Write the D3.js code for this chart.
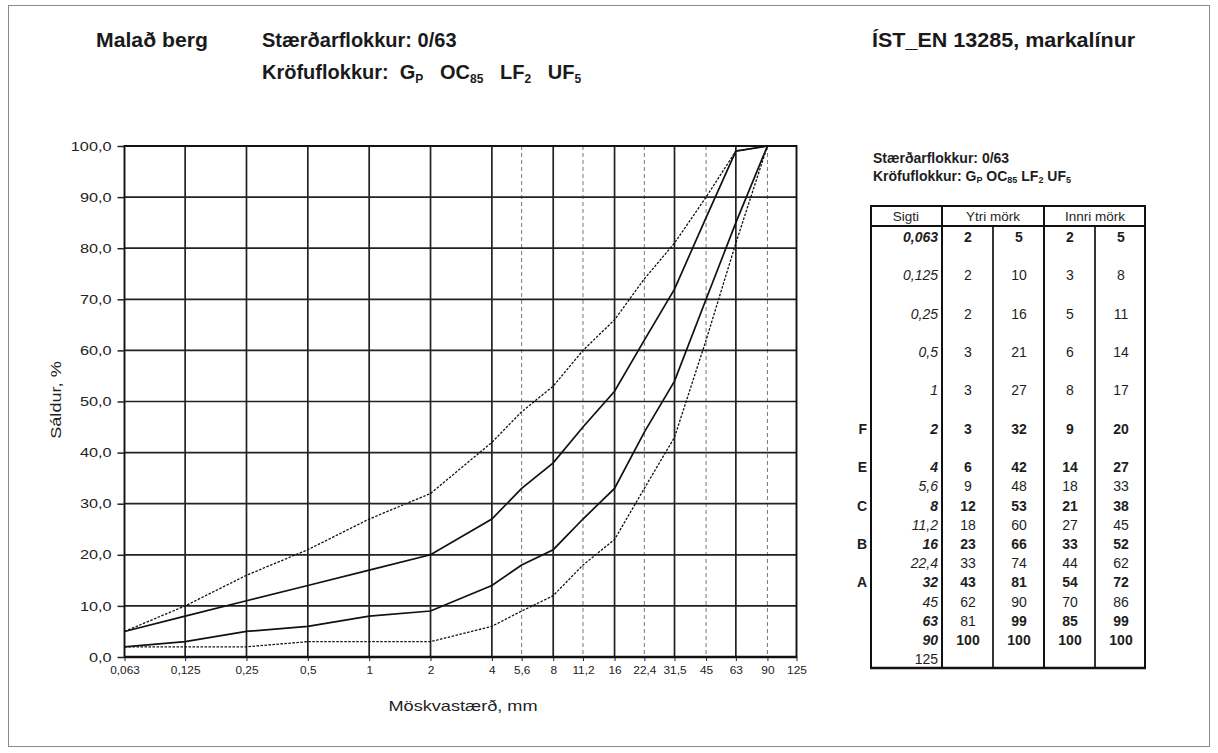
<!DOCTYPE html>
<html><head><meta charset="utf-8">
<script src="https://cdn.jsdelivr.net/npm/d3@7"></script>
<style>
body{margin:0;background:#fff;}
svg{display:block;font-family:"Liberation Sans",Arial,sans-serif;}
text{white-space:pre;}
</style></head>
<body>
<svg id="c" width="1218" height="753"></svg>
<script>
// ---- data ----
const sieves = [0.063,0.125,0.25,0.5,1,2,4,5.6,8,11.2,16,22.4,31.5,45,63,90];
const outerLower = [2,2,2,3,3,3,6,9,12,18,23,33,43,62,81,100];
const outerUpper = [5,10,16,21,27,32,42,48,53,60,66,74,81,90,99,100];
const innerLower = [2,3,5,6,8,9,14,18,21,27,33,44,54,70,85,100];
const innerUpper = [5,8,11,14,17,20,27,33,38,45,52,62,72,86,99,100];
const xTickValues = [0.063,0.125,0.25,0.5,1,2,4,5.6,8,11.2,16,22.4,31.5,45,63,90,125];
const xTickLabels = ["0,063","0,125","0,25","0,5","1","2","4","5,6","8","11,2","16","22,4","31,5","45","63","90","125"];
const xSolidGrid = [0.125,0.25,0.5,1,2,4,8,16,31.5,63];
const xDashedGrid = [5.6,11.2,22.4,45,90];
const yTicks = [0,10,20,30,40,50,60,70,80,90,100];
const yTickLabels = ["0,0","10,0","20,0","30,0","40,0","50,0","60,0","70,0","80,0","90,0","100,0"];
// table
const tableSieve = ["0,063","0,125","0,25","0,5","1","2","4","5,6","8","11,2","16","22,4","32","45","63","90","125"];
const tableRowIndex = [0,2,4,6,8,10,12,13,14,15,16,17,18,19,20,21,22];
const tableClass = ["","","","","","F","E","","C","","B","","A","","","",""];
const tYtriLow = ["2","2","2","3","3","3","6","9","12","18","23","33","43","62","81","100",""];
const tYtriHigh = ["5","10","16","21","27","32","42","48","53","60","66","74","81","90","99","100",""];
const tInnriLow = ["2","3","5","6","8","9","14","18","21","27","33","44","54","70","85","100",""];
const tInnriHigh = ["5","8","11","14","17","20","27","33","38","45","52","62","72","86","99","100",""];
// bold flags per row: [sieve, yl, yh, il, ih]
const tableBold = [
 [1,1,1,1,1],[0,0,0,0,0],[0,0,0,0,0],[0,0,0,0,0],[0,0,0,0,0],
 [1,1,1,1,1],[1,1,1,1,1],[0,0,0,0,0],[1,1,1,1,1],[0,0,0,0,0],
 [1,1,1,1,1],[0,0,0,0,0],[1,1,1,1,1],[0,0,0,0,0],[1,0,1,1,1],
 [1,1,1,1,1],[0,0,0,0,0]];

const svg = d3.select("#c");
function stretch(sel,k){
  sel.each(function(){
    const w=this.getComputedTextLength();
    this.setAttribute("textLength",(w*k).toFixed(2));
    this.setAttribute("lengthAdjust","spacingAndGlyphs");
  });
  return sel;
}
// page frame
svg.append("rect").attr("x",8.5).attr("y",5.5).attr("width",1201).attr("height",741)
  .attr("fill","none").attr("stroke","#8a8a8a").attr("stroke-width",1);

// ---- titles ----
const T = svg.append("g").attr("font-weight","bold").attr("fill","#1a1a1a");
stretch(T.append("text").attr("x",96).attr("y",47).attr("font-size",20).text("Malað berg"),1.06);
T.append("text").attr("x",262).attr("y",47).attr("font-size",20).text("Stærðarflokkur: 0/63");
stretch(T.append("text").attr("x",872).attr("y",47).attr("font-size",20.5).text("ÍST_EN 13285, markalínur"),1.05);
const k = T.append("text").attr("x",262).attr("y",79).attr("font-size",20);
k.append("tspan").text("Kröfuflokkur:  G");
k.append("tspan").attr("font-size",12).attr("dy",4).text("P");
k.append("tspan").attr("dy",-4).text("   OC");
k.append("tspan").attr("font-size",12).attr("dy",4).text("85");
k.append("tspan").attr("dy",-4).text("   LF");
k.append("tspan").attr("font-size",12).attr("dy",4).text("2");
k.append("tspan").attr("dy",-4).text("   UF");
k.append("tspan").attr("font-size",12).attr("dy",4).text("5");

// ---- chart ----
const L=124.5, R=796.5, TOP=146, BOT=657;
const x = d3.scaleLog().domain([0.063,125]).range([L,R]);
const y = d3.scaleLinear().domain([0,100]).range([BOT,TOP]);
const g = svg.append("g");
g.selectAll(".vd").data(xDashedGrid).enter().append("line")
  .attr("x1",d=>x(d)).attr("x2",d=>x(d)).attr("y1",TOP).attr("y2",BOT)
  .attr("stroke","#777").attr("stroke-width",1).attr("stroke-dasharray","4,3");
g.selectAll(".vs").data(xSolidGrid).enter().append("line")
  .attr("x1",d=>x(d)).attr("x2",d=>x(d)).attr("y1",TOP).attr("y2",BOT)
  .attr("stroke","#222").attr("stroke-width",1.7);
g.selectAll(".h").data(yTicks).enter().append("line")
  .attr("x1",L).attr("x2",R).attr("y1",d=>y(d)).attr("y2",d=>y(d))
  .attr("stroke","#222").attr("stroke-width",1.7);
g.append("rect").attr("x",L).attr("y",TOP).attr("width",R-L).attr("height",BOT-TOP)
  .attr("fill","none").attr("stroke","#111").attr("stroke-width",1.9);
g.append("line").attr("x1",L).attr("x2",R).attr("y1",BOT).attr("y2",BOT).attr("stroke","#111").attr("stroke-width",2.6);

// axes
const yAxis = d3.axisLeft(y).tickValues(yTicks).tickFormat((d,i)=>yTickLabels[i]).tickSize(7).tickPadding(6);
const ya = svg.append("g").attr("transform",`translate(${L},0)`).call(yAxis);
ya.select(".domain").remove();
ya.selectAll(".tick line").attr("stroke","#222").attr("stroke-width",1.5);
ya.selectAll(".tick text").attr("font-size",13).attr("fill","#222").attr("font-family","Liberation Sans, Arial, sans-serif");
stretch(ya.selectAll(".tick text"),1.25);
const xAxis = d3.axisBottom(x).tickValues(xTickValues).tickFormat((d,i)=>xTickLabels[i]).tickSize(4).tickPadding(6);
const xa = svg.append("g").attr("transform",`translate(0,${BOT})`).call(xAxis);
xa.select(".domain").remove();
xa.selectAll(".tick line").attr("stroke","#222");
xa.selectAll(".tick text").attr("font-size",10.5).attr("fill","#222").attr("font-family","Liberation Sans, Arial, sans-serif");
stretch(xa.selectAll(".tick text"),1.13);

stretch(svg.append("text").attr("x",463).attr("y",711).attr("text-anchor","middle").attr("font-size",14.5).attr("fill","#222").text("Möskvastærð, mm"),1.25);
stretch(svg.append("text").attr("transform","translate(61,400) rotate(-90)").attr("text-anchor","middle").attr("font-size",14.5).attr("fill","#222").text("Sáldur, %"),1.25);

// curves
const line = d3.line().x(d=>x(d[0])).y(d=>y(d[1]));
function curve(vals, dashed){
  g.append("path").datum(sieves.map((s,i)=>[s,vals[i]]))
   .attr("d",line).attr("fill","none").attr("stroke","#111")
   .attr("stroke-width",dashed?1.3:1.7)
   .attr("stroke-dasharray",dashed?"2.5,1.5":null);
}
curve(outerLower,true); curve(outerUpper,true);
curve(innerLower,false); curve(innerUpper,false);

// ---- table ----
const tb = svg.append("g").attr("fill","#1e1e1e");
tb.append("text").attr("x",873).attr("y",163).attr("font-size",14).attr("font-weight","bold").text("Stærðarflokkur: 0/63");
const kt = tb.append("text").attr("x",873).attr("y",181).attr("font-size",14).attr("font-weight","bold");
kt.append("tspan").text("Kröfuflokkur: G");
kt.append("tspan").attr("font-size",9).attr("dy",2).text("P");
kt.append("tspan").attr("dy",-2).text(" OC");
kt.append("tspan").attr("font-size",9).attr("dy",2).text("85");
kt.append("tspan").attr("dy",-2).text(" LF");
kt.append("tspan").attr("font-size",9).attr("dy",2).text("2");
kt.append("tspan").attr("dy",-2).text(" UF");
kt.append("tspan").attr("font-size",9).attr("dy",2).text("5");

const tL=871, tR=1145, tTop=206, tHead=226, tBot=668;
const colX = [942,993,1044,1095];
tb.append("text").attr("x",906).attr("y",221).attr("text-anchor","middle").attr("font-size",13.5).text("Sigti");
tb.append("text").attr("x",993).attr("y",221).attr("text-anchor","middle").attr("font-size",13.5).text("Ytri mörk");
tb.append("text").attr("x",1095).attr("y",221).attr("text-anchor","middle").attr("font-size",13.5).text("Innri mörk");
const ln = (x1,y1,x2,y2,w)=>tb.append("line").attr("x1",x1).attr("y1",y1).attr("x2",x2).attr("y2",y2).attr("stroke","#111").attr("stroke-width",w);
ln(tL-1,tTop,tR+1,tTop,1.8); ln(tL,tHead,tR,tHead,2); ln(tL-1,tBot,tR+1,tBot,2.4);
ln(tL,tTop,tL,tBot,2); ln(tR,tTop,tR,tBot,2);
ln(colX[0],tTop,colX[0],tBot,2); ln(colX[2],tTop,colX[2],tBot,2);
ln(colX[1],tHead,colX[1],tBot,1.7); ln(colX[3],tHead,colX[3],tBot,1.7);

const rowY = r => 241.7 + 19.2*r;
const valCols = [tYtriLow,tYtriHigh,tInnriLow,tInnriHigh];
const valX = [968,1019,1070,1121];
tableSieve.forEach((s,i)=>{
  const yy = rowY(tableRowIndex[i]);
  tb.append("text").attr("x",938).attr("y",yy).attr("text-anchor","end").attr("font-size",14)
    .attr("font-style",i===tableSieve.length-1?"normal":"italic").attr("font-weight",tableBold[i][0]?"bold":"normal").text(s);
  if(tableClass[i]) tb.append("text").attr("x",867).attr("y",yy).attr("text-anchor","end").attr("font-size",14).attr("font-weight","bold").text(tableClass[i]);
  valCols.forEach((col,j)=>{
    if(!col[i]) return;
    tb.append("text").attr("x",valX[j]).attr("y",yy).attr("text-anchor","middle").attr("font-size",14)
      .attr("font-weight",tableBold[i][j+1]?"bold":"normal").text(col[i]);
  });
});
</script>
</body></html>
